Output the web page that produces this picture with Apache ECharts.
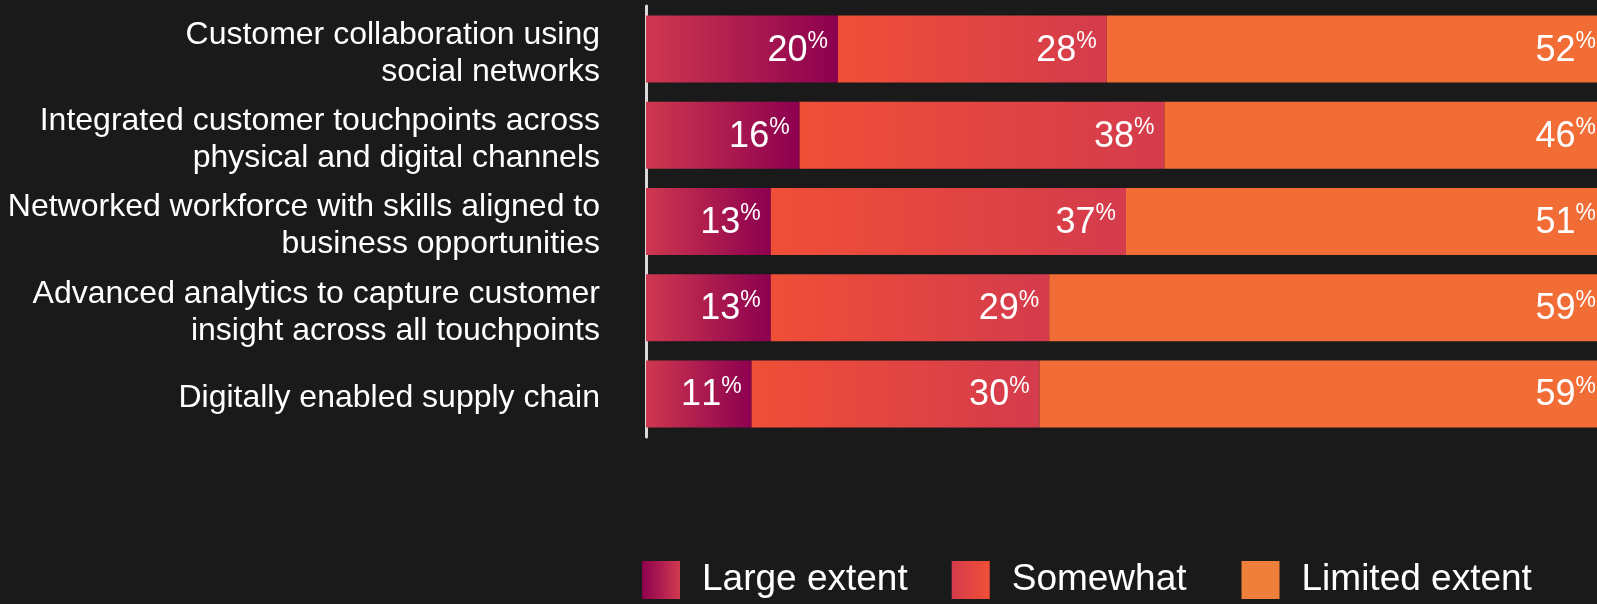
<!DOCTYPE html>
<html>
<head>
<meta charset="utf-8">
<script src="https://cdn.jsdelivr.net/npm/echarts@6/dist/echarts.min.js"></script>
<style>
  html, body { margin: 0; padding: 0; background: #1a1a1a; }
  #chart { width: 1597px; height: 604px; }
</style>
</head>
<body>
<div id="chart"></div>
<script>
// Survey results: extent to which each digital capability is in place (%)
const categories = [
  'Customer collaboration using\nsocial networks',
  'Integrated customer touchpoints across\nphysical and digital channels',
  'Networked workforce with skills aligned to\nbusiness opportunities',
  'Advanced analytics to capture customer\ninsight across all touchpoints',
  'Digitally enabled supply chain'
];
const seriesNames = ['Large extent', 'Somewhat', 'Limited extent'];
const largeExtent = [20, 16, 13, 13, 11];
const somewhat = [28, 38, 37, 29, 30];
const limitedExtent = [52, 46, 51, 59, 59];

const FONT = "'Liberation Sans', Arial, sans-serif";

function hGrad(from, to) {
  return new echarts.graphic.LinearGradient(0, 0, 1, 0, [
    { offset: 0, color: from },
    { offset: 1, color: to }
  ]);
}

const barColors = [
  hGrad('#cf384f', '#8c004f'),
  hGrad('#f04f37', '#d43b4c'),
  '#f26c35'
];
const legendColors = [
  hGrad('#8c004f', '#d03a4f'),
  hGrad('#d43b4c', '#f04f37'),
  '#ef7f3b'
];

// Each digit is its own token so the pair "11" keeps its natural spacing.
const valueLabel = {
  show: true,
  position: 'insideRight',
  distance: 10,
  formatter: p => String(p.value).split('').map(d => '{n|' + d + '}').join('') + '{p|%}',
  rich: {
    n: { fontFamily: FONT, fontSize: 36, lineHeight: 38, color: '#ffffff', padding: [3, 0, 0, 0] },
    p: { fontFamily: FONT, fontSize: 23, lineHeight: 23, color: '#ffffff', verticalAlign: 'top' }
  }
};

function barSeries(i, values) {
  return {
    name: seriesNames[i],
    type: 'bar',
    stack: 'total',
    barWidth: 67,
    data: values,
    itemStyle: { color: barColors[i] },
    label: valueLabel,
    emphasis: { disabled: true }
  };
}

const chart = echarts.init(document.getElementById('chart'), null, { renderer: 'canvas' });
chart.setOption({
  backgroundColor: '#1a1a1a',
  animation: false,
  // grid 0 holds the bars; grid 1 only carries the category labels, set a little lower
  grid: [
    { left: 646, right: -9, top: 6, height: 431, outerBoundsMode: 'none', containLabel: false },
    { left: 646, right: -9, top: 10.5, height: 431, outerBoundsMode: 'none', containLabel: false }
  ],
  xAxis: [
    { type: 'value', min: 0, max: 100, show: false, gridIndex: 0 },
    { type: 'value', min: 0, max: 100, show: false, gridIndex: 1 }
  ],
  yAxis: [
    {
      type: 'category',
      gridIndex: 0,
      inverse: true,
      data: categories,
      axisLine: { show: true, lineStyle: { color: '#d9d9d9', width: 3 } },
      axisTick: { show: false },
      splitLine: { show: false },
      axisLabel: { show: false }
    },
    {
      type: 'category',
      gridIndex: 1,
      inverse: true,
      data: categories,
      axisLine: { show: false },
      axisTick: { show: false },
      splitLine: { show: false },
      axisLabel: {
        margin: 46,
        color: '#ffffff',
        fontFamily: FONT,
        fontSize: 32,
        lineHeight: 37,
        align: 'right'
      }
    }
  ],
  legend: {
    left: 642,
    top: 561,
    padding: 0,
    itemWidth: 38,
    itemHeight: 38,
    itemGap: 44,
    icon: 'rect',
    selectedMode: false,
    formatter: name => (name === 'Somewhat' ? '{wide|' + name + '}' : name),
    textStyle: {
      color: '#ffffff', fontFamily: FONT, fontSize: 37, padding: [0, 0, 0, 17],
      rich: {
        wide: {
          color: '#ffffff', fontFamily: FONT, fontSize: 37,
          padding: [0, 11, 0, 0], backgroundColor: 'rgba(0,0,0,0)'
        }
      }
    },
    data: seriesNames.map((name, i) => ({ name, itemStyle: { color: legendColors[i] } }))
  },
  series: [
    barSeries(0, largeExtent),
    barSeries(1, somewhat),
    barSeries(2, limitedExtent)
  ]
});
</script>
</body>
</html>
